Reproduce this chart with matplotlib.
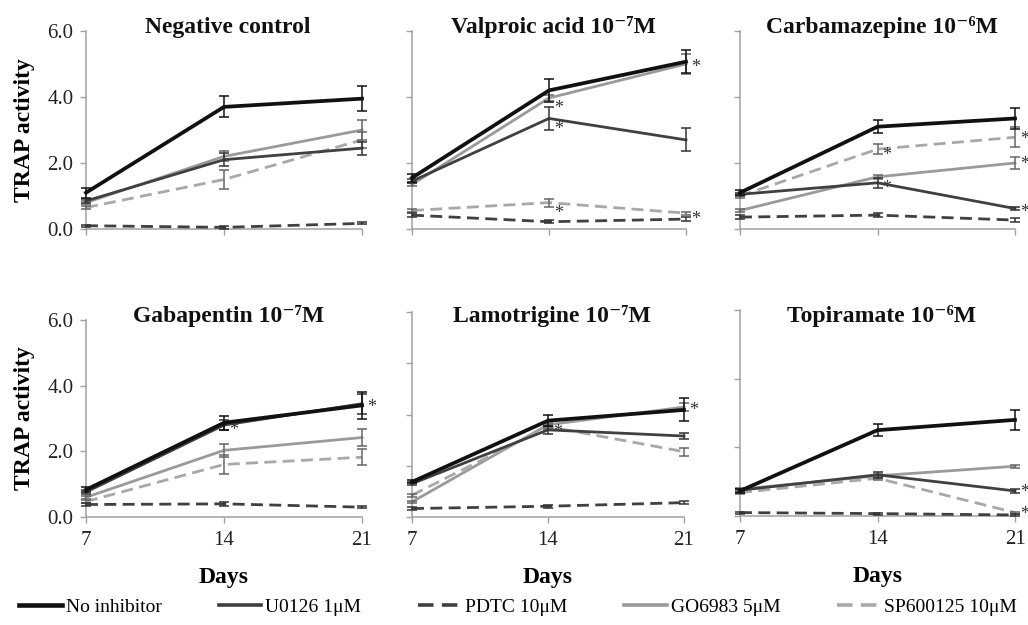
import matplotlib
matplotlib.use("Agg")
import matplotlib.pyplot as plt
from matplotlib.lines import Line2D

plt.rcParams['font.family'] = ['Liberation Serif', 'DejaVu Serif']

days = [7, 14, 21]
titles = ["Negative control",
          "Valproic acid 10\u207b\u2077M",
          "Carbamazepine 10\u207b\u2076M",
          "Gabapentin 10\u207b\u2077M",
          "Lamotrigine 10\u207b\u2077M",
          "Topiramate 10\u207b\u2076M"]
series_names = ["No inhibitor", "U0126 1\u03bcM", "PDTC 10\u03bcM", "GO6983 5\u03bcM", "SP600125 10\u03bcM"]

# one row per panel: day 7, 14, 21
no_inhibitor = [[1.1, 3.7, 3.95], [1.55, 4.2, 5.07], [1.1, 3.1, 3.35],
                [0.83, 2.87, 3.4], [1.37, 3.76, 4.18], [0.73, 2.5, 2.8]]
u0126 = [[0.85, 2.1, 2.45], [1.45, 3.35, 2.7], [1.05, 1.4, 0.62],
         [0.76, 2.8, 3.45], [1.3, 3.4, 3.16], [0.75, 1.2, 0.73]]
pdtc = [[0.1, 0.05, 0.17], [0.42, 0.22, 0.3], [0.36, 0.42, 0.27],
        [0.38, 0.4, 0.3], [0.33, 0.42, 0.56], [0.1, 0.07, 0.03]]
go6983 = [[0.8, 2.2, 3.0], [1.35, 3.97, 5.0], [0.56, 1.58, 2.0],
          [0.6, 2.03, 2.42], [0.59, 3.6, 4.29], [0.78, 1.17, 1.45]]
sp600125 = [[0.65, 1.5, 2.7], [0.56, 0.8, 0.48], [1.0, 2.42, 2.78],
            [0.47, 1.6, 1.82], [0.85, 3.53, 2.55], [0.68, 1.1, 0.1]]

no_inhibitor_err = [[0.15, 0.32, 0.38], [0.12, 0.35, 0.35], [0.08, 0.2, 0.33],
                    [0.08, 0.22, 0.4], [0.06, 0.22, 0.45], [0.06, 0.18, 0.3]]
u0126_err = [[0.05, 0.2, 0.2], [0.05, 0.35, 0.35], [0.05, 0.15, 0.05],
             [0.05, 0.15, 0.3], [0.05, 0.15, 0.1], [0.05, 0.08, 0.05]]
pdtc_err = [[0.03, 0.04, 0.03], [0.05, 0.04, 0.05], [0.05, 0.06, 0.05],
            [0.04, 0.06, 0.04], [0.05, 0.05, 0.06], [0.03, 0.03, 0.03]]
go6983_err = [[0.05, 0.15, 0.3], [0.05, 0.1, 0.3], [0.05, 0.05, 0.18],
              [0.05, 0.2, 0.25], [0.05, 0.1, 0.15], [0.03, 0.05, 0.04]]
sp600125_err = [[0.05, 0.3, 0.25], [0.05, 0.12, 0.05], [0.05, 0.15, 0.3],
                [0.05, 0.3, 0.25], [0.05, 0.1, 0.15], [0.03, 0.05, 0.03]]

# significance marks (day, value) per panel
stars = [[], [(14, 3.65), (14, 3.0), (14, 0.48), (21, 4.9), (21, 0.3)],
         [(14, 2.22), (14, 1.22), (21, 2.72), (21, 1.95), (21, 0.5)],
         [(14, 2.62), (21, 3.33)], [(14, 3.3), (21, 4.15)], [(21, 0.68), (21, 0.05)]]

y_max = [6, 6, 6, 6, 8, 6]

colors = ['#111111', '#404040', '#404040', '#9a9a9a', '#a8a8a8']
widths = [2.7, 2.0, 2.0, 2.0, 2.0]
dashed = [False, False, True, False, True]
err_colors = ['#111111', '#333333', '#333333', '#666666', '#666666']
zorders = [6, 5, 4, 3, 3]

# axes boxes in pixels: left, right, top, bottom
boxes = [(86, 362, 31, 229), (412, 686, 31, 229), (740, 1015, 31, 229),
         (86, 362, 320, 517), (412, 684, 312, 517), (740, 1015, 310, 516)]
W, H = 1028, 625

fig = plt.figure(figsize=(10.28, 6.25), dpi=100)
gray = '#a0a0a0'

all_data = [no_inhibitor, u0126, pdtc, go6983, sp600125]
all_err = [no_inhibitor_err, u0126_err, pdtc_err, go6983_err, sp600125_err]
draw_order = [3, 4, 2, 1, 0]

for i in range(6):
    l, r, t, b = boxes[i]
    ax = fig.add_axes([l / W, (H - b) / H, (r - l) / W, (b - t) / H])
    for s in draw_order:
        ls = (0, (4.3, 2.3)) if dashed[s] else '-'
        ax.plot(days, all_data[s][i], color=colors[s], lw=widths[s], ls=ls,
                zorder=zorders[s], clip_on=False)
        ax.errorbar(days, all_data[s][i], yerr=all_err[s][i], fmt='none',
                    ecolor=err_colors[s], elinewidth=1.1, capsize=3.5,
                    capthick=1.1, zorder=zorders[s] + 1, clip_on=False)
    for d, v in stars[i]:
        ax.text(d + 0.25, v, '*', fontsize=13, color='#333333',
                ha='left', va='center')
    ax.set_xlim(7, 21)
    ax.set_ylim(0, y_max[i])
    ax.set_xticks(days)
    ax.set_yticks(range(0, y_max[i] + 1, 2))
    for side in ['top', 'right']:
        ax.spines[side].set_visible(False)
    for side in ['left', 'bottom']:
        ax.spines[side].set_color(gray)
        ax.spines[side].set_linewidth(1.1)
    ax.tick_params(direction='out', length=4, width=1.0, color=gray,
                   labelsize=15, labelcolor='#222222')
    ax.tick_params(axis='y', pad=5)
    ax.tick_params(axis='x', pad=6)
    if i % 3 == 0:
        ax.set_yticklabels([f"{v:.1f}" for v in range(0, y_max[i] + 1, 2)])
        ax.set_ylabel("TRAP activity", fontsize=17, fontweight='bold', labelpad=9)
    else:
        ax.set_yticklabels([])
    if i >= 3:
        ax.set_xticklabels([str(d) for d in days])
        ax.set_xlabel("Days", fontsize=17, fontweight='bold', labelpad=12)
    else:
        ax.set_xticklabels([])
    base = 33 if i < 3 else 322
    fig.text((l + r) / 2 / W + 0.004, (H - base) / H, titles[i], fontsize=17,
             fontweight='bold', ha='center', va='baseline', color='#111111')

handles = []
for s in range(5):
    ls = (0, (4.3, 2.3)) if dashed[s] else '-'
    handles.append(Line2D([], [], color=colors[s], lw=widths[s] + 0.6, ls=ls))
fig.legend(handles, series_names, loc='center', mode='expand',
           bbox_to_anchor=(19 / W, 0.0, 998 / W, 0.058),
           ncol=5, frameon=False, fontsize=14, handlelength=2.2,
           handletextpad=0.2, borderaxespad=0, borderpad=0)

fig.savefig("out.png", dpi=100)
